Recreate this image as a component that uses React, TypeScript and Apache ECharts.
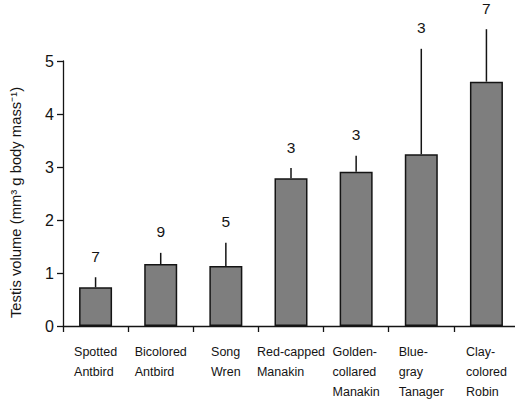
import React, { useEffect, useRef } from "react";
import * as echarts from "echarts";

const categories = [
  "Spotted\nAntbird",
  "Bicolored\nAntbird",
  "Song\nWren",
  "Red-capped\nManakin",
  "Golden-\ncollared\nManakin",
  "Blue-\ngray\nTanager",
  "Clay-\ncolored\nRobin",
];
const meanVolume = [0.73, 1.17, 1.13, 2.79, 2.91, 3.24, 4.61];
const upperError = [0.92, 1.38, 1.57, 2.98, 3.21, 5.23, 5.6];
const sampleSize = [7, 9, 5, 3, 3, 3, 7];
const yTicks = [0, 1, 2, 3, 4, 5];

const FONT = "Liberation Sans, Arial, Helvetica, sans-serif";
const INK = "#141414";

export default function App() {
  const ref = useRef<HTMLDivElement>(null);
  useEffect(() => {
    if (!ref.current) return;
    const chart = echarts.init(ref.current, undefined, { renderer: "svg" });
    const errData = categories.map((_, i) => [i, upperError[i], meanVolume[i], sampleSize[i]]);
    chart.setOption({
      animation: false,
      backgroundColor: "#ffffff",
      grid: {
        left: 63,
        top: 61,
        width: 456,
        height: 265,
        containLabel: false,
        outerBoundsMode: "none",
      },
      xAxis: {
        type: "category",
        data: categories,
        boundaryGap: true,
        axisLine: { show: true, lineStyle: { color: INK, width: 1.3 } },
        axisTick: { show: true, length: 6, lineStyle: { color: INK, width: 1.3 } },
        axisLabel: {
          interval: 0,
          margin: 16,
          color: INK,
          fontFamily: FONT,
          fontSize: 12.5,
          lineHeight: 20,
          formatter: (v: string) => v.split("\n").map((l) => `{a|${l}}`).join("\n"),
          rich: {
            a: { align: "left", fontSize: 12.5, lineHeight: 20, fontFamily: FONT, color: INK },
          },
        },
        splitLine: { show: false },
      },
      yAxis: {
        type: "value",
        min: yTicks[0],
        max: yTicks[yTicks.length - 1],
        interval: 1,
        name: "Testis volume (mm³ g body mass⁻¹)",
        nameLocation: "middle",
        nameGap: 40,
        nameTextStyle: {
          color: INK,
          fontFamily: FONT,
          fontSize: 14.8,
          padding: [0, 18, 0, 0],
        },
        axisLine: { show: true, lineStyle: { color: INK, width: 1.3 } },
        axisTick: { show: true, length: 6, lineStyle: { color: INK, width: 1.3 } },
        axisLabel: { color: INK, fontFamily: FONT, fontSize: 16, margin: 9 },
        splitLine: { show: false },
      },
      series: [
        {
          type: "bar",
          data: meanVolume,
          barWidth: 33,
          itemStyle: { color: "#7e7e7e", borderColor: INK, borderWidth: 1.5 },
          z: 2,
        },
        {
          type: "custom",
          data: errData,
          z: 3,
          renderItem: (params: any, api: any) => {
            const i = api.value(0);
            const top = api.coord([i, api.value(1)]);
            const bot = api.coord([i, api.value(2)]);
            return {
              type: "group",
              children: [
                {
                  type: "line",
                  shape: { x1: bot[0], y1: bot[1], x2: top[0], y2: top[1] },
                  style: { stroke: INK, lineWidth: 1.5 },
                },
                {
                  type: "text",
                  x: top[0],
                  y: top[1] - 21,
                  style: {
                    text: String(api.value(3)),
                    fill: INK,
                    font: `15.5px ${FONT}`,
                    textAlign: "center",
                    textVerticalAlign: "middle",
                  },
                },
              ],
            };
          },
        },
      ],
    });
    return () => chart.dispose();
  }, []);
  return <div ref={ref} style={{ width: 515, height: 401, position: "absolute", left: 0, top: 0 }} />;
}
